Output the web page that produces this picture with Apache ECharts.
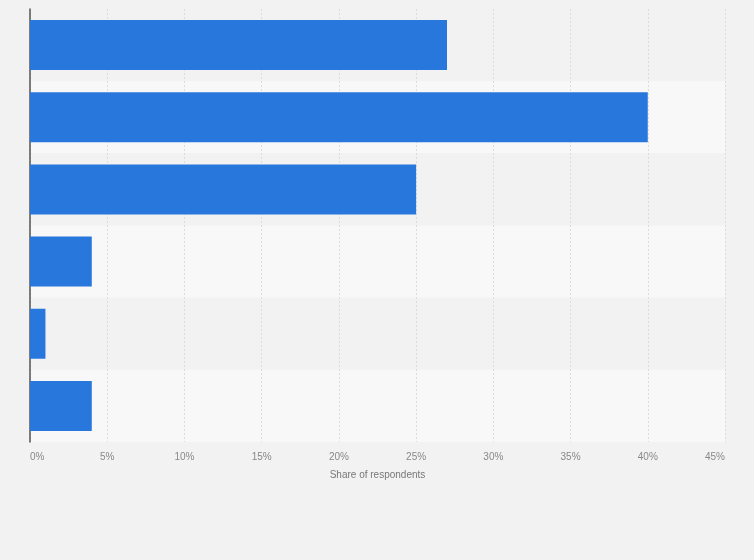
<!DOCTYPE html>
<html>

<head>
    <meta charset="utf-8" />
    <script src="https://cdn.jsdelivr.net/npm/echarts@6/dist/echarts.min.js"></script>
    <style>
        html, body { margin: 0; padding: 0; background: #f2f2f2; }
    </style>
</head>

<body>
    <div id="main" style="width: 754px;height: 560px;"></div>

    <script type="text/javascript">
        // no category labels are shown in the picture
        var categories = ['Answer 1', 'Answer 2', 'Answer 3', 'Answer 4', 'Answer 5', 'Answer 6'];
        var shares = [27, 40, 25, 4, 1, 4];
        var axisMax = 45;
        var axisStep = 5;

        var chartDom = document.getElementById('main');
        var myChart = echarts.init(chartDom, null, { renderer: 'canvas' });
        var option;

        option = {
            backgroundColor: '#f2f2f2',
            animation: false,
            grid: {
                left: 30,
                right: 29,
                top: 9,
                bottom: 118,
                containLabel: false
            },
            xAxis: {
                type: 'value',
                min: 0,
                max: axisMax,
                interval: axisStep,
                name: 'Share of respondents',
                nameLocation: 'middle',
                nameGap: 28,
                nameTextStyle: {
                    color: '#777',
                    fontSize: 10,
                    fontFamily: 'Liberation Sans'
                },
                axisLine: { show: false },
                axisTick: { show: false },
                axisLabel: {
                    formatter: '{value}%',
                    color: '#888',
                    fontSize: 10,
                    fontFamily: 'Liberation Sans',
                    margin: 10,
                    alignMinLabel: 'left',
                    alignMaxLabel: 'right'
                },
                splitLine: {
                    show: true,
                    lineStyle: { color: '#dcdcdc', type: [2, 2], width: 1 }
                }
            },
            yAxis: {
                type: 'category',
                data: categories,
                inverse: true,
                axisLine: {
                    show: true,
                    lineStyle: { color: '#555', width: 1.5 }
                },
                axisTick: { show: false },
                axisLabel: { show: false },
                splitLine: { show: false },
                splitArea: {
                    show: true,
                    areaStyle: { color: ['#f2f2f2', '#f8f8f8'] }
                }
            },
            series: [
                {
                    type: 'bar',
                    data: shares,
                    barWidth: 50,
                    itemStyle: { color: '#2777dc' }
                }
            ]
        };

        option && myChart.setOption(option);
    </script>
</body>
</html>
